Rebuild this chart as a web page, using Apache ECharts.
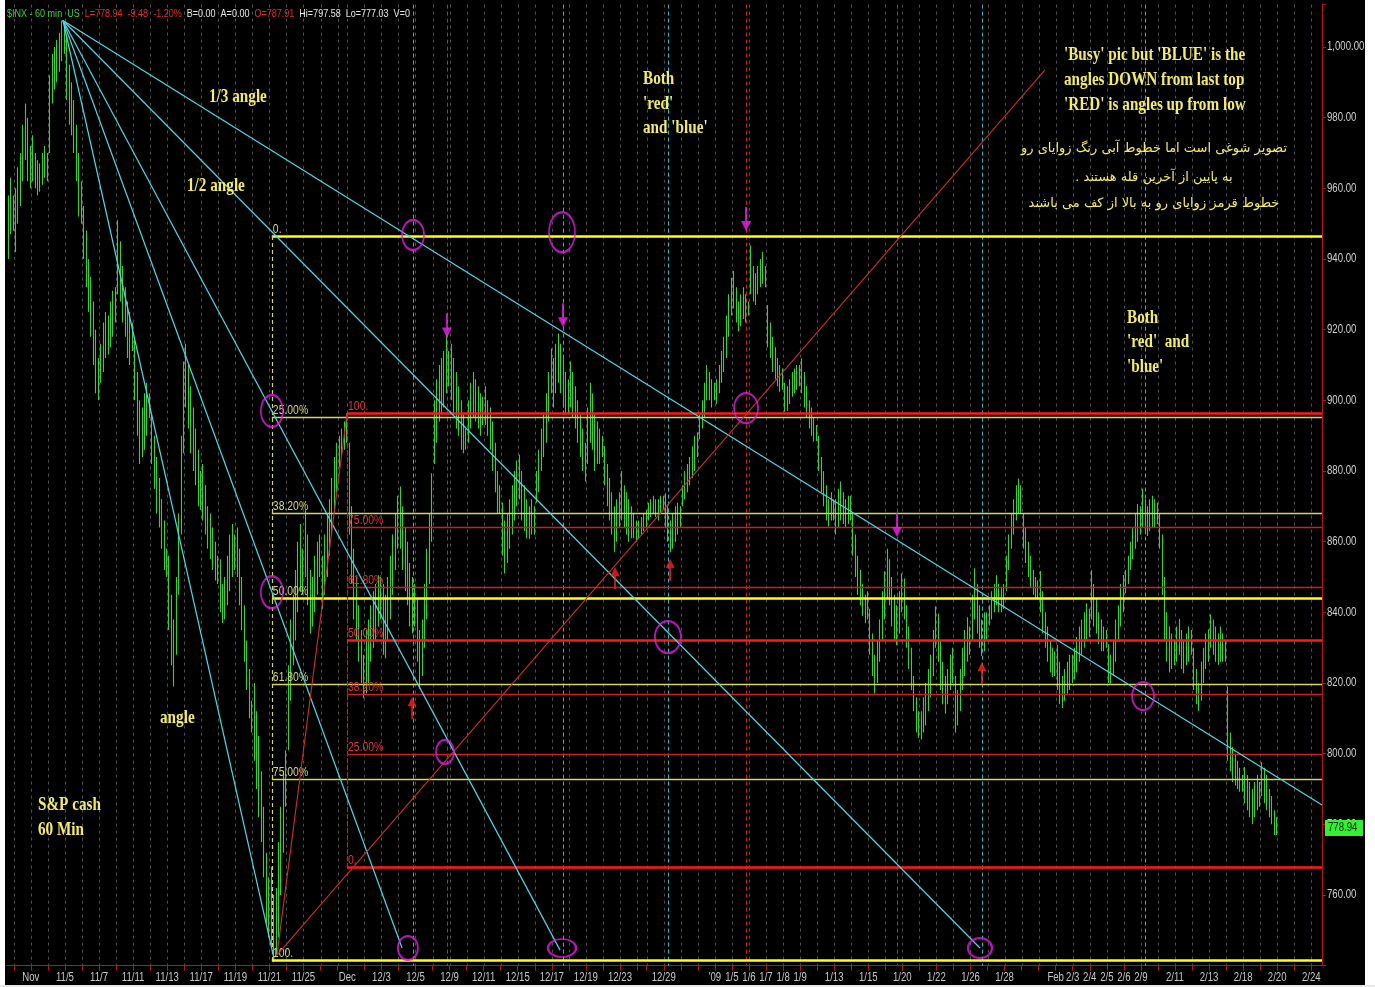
<!DOCTYPE html>
<html>
<head>
<meta charset="utf-8">
<title>$INX 60 min</title>
<script src="https://cdn.jsdelivr.net/npm/echarts@6/dist/echarts.min.js"></script>
<style>
  html, body { margin: 0; padding: 0; background: #ffffff; }
  #chart { width: 1375px; height: 987px; }
</style>
</head>
<body>
<div id="chart"></div>
<script>
// ---- Hourly bars, [high, low], grouped by trading day ----
const octDays = ['10/30', '10/31'];
const octBars = [
  [[951,939],[948,937],[945,930],[950,935],[958,940],[963,947],[958,948]],
  [[960,942],[966,950],[970,955],[978,962],[984,968],[980,962],[972,960]]
];

const novDays = ['11/3','11/4','11/5','11/6','11/7','11/10','11/11','11/12','11/13','11/14',
                 '11/17','11/18','11/19','11/20','11/21','11/24','11/25','11/26','11/28'];
const novBars = [
  [[975,962],[970,960],[968,958],[967,959],[970,961],[972,963],[970,962]],
  [[992,970],[998,984],[1000,988],[1002,990],[1004,993],[1007.5,996],[1006,998]],
  [[1003,985],[995,978],[990,975],[985,970],[978,962],[970,952],[962,950]],
  [[955,940],[948,932],[940,925],[935,918],[928,910],[920,902],[912,900]],
  [[916,905],[922,908],[925,912],[924,913],[928,915],[931,918],[932,922]],
  [[951,930],[945,928],[938,922],[932,918],[928,912],[925,910],[922,914]],
  [[917,900],[908,890],[900,882],[898,884],[902,886],[905,890],[902,895]],
  [[896,882],[890,875],[884,868],[878,864],[872,858],[866,852],[858,850]],
  [[856,835],[845,825],[838,819],[850,828],[868,845],[890,862],[911,885]],
  [[916,898],[910,892],[904,885],[898,880],[892,876],[886,870],[880,869]],
  [[882,866],[876,862],[870,858],[868,855],[864,852],[860,849],[856,848]],
  [[855,840],[848,837],[850,838],[856,842],[862,846],[865,850],[862,852]],
  [[864,850],[858,842],[850,835],[842,826],[832,818],[824,810],[815,806]],
  [[820,798],[812,790],[805,782],[795,775],[785,765],[772,752],[765,748]],
  [[768,745],[760,741],[762,743],[775,748],[785,760],[795,772],[801,785]],
  [[825,801],[838,815],[845,825],[852,832],[860,840],[865,846],[858,845]],
  [[869,850],[862,842],[852,834],[850,836],[856,840],[860,845],[862,850]],
  [[856,841],[862,845],[868,850],[872,856],[878,862],[884,868],[888,874]],
  [[890,881],[892,884],[894,886],[896.3,888]]
];

const decDays = ['12/1','12/2','12/3','12/4','12/5','12/8','12/9','12/10','12/11','12/12','12/15',
                 '12/16','12/17','12/18','12/19','12/22','12/23','12/24','12/26','12/29','12/30','12/31'];
const decBars = [
  [[888,862],[870,848],[858,838],[850,832],[842,826],[835,820],[828,815.7]],
  [[835,817],[838,820],[842,826],[846,830],[848,832],[850.5,836],[850,838]],
  [[848,828],[845,827],[850,832],[856,838],[862,845],[868,852],[873,858]],
  [[875.6,858],[870,852],[864,846],[860,842],[854,836],[850,834],[848,836]],
  [[844,826],[835,818.4],[838,822],[848,830],[858,838],[868,848],[879.4,860]],
  [[900,882],[906,888],[910,894],[912,896],[914,898],[918.6,902],[914,904]],
  [[916,900],[912,896],[908,892],[904,890],[900,886],[896,885],[892,886]],
  [[900,888],[905,892],[908,895],[906,894],[904,892],[902,890],[901,893]],
  [[904,893],[900,890],[898,886],[894,880],[888,874],[880,868],[876,868]],
  [[871,856],[866,851],[868,854],[872,858],[876,862],[880,866],[883,870]],
  [[884.6,872],[880,866],[876,863],[872,861],[870,860.8],[872,862],[870,862]],
  [[880,871],[886,874],[892,880],[896,884],[902,888],[908,894],[914.7,902]],
  [[912,898],[916,902],[918.9,905],[916,902],[912,898],[908,896],[906,896]],
  [[911,898],[908,895],[904,892],[900,888],[896,884],[892,880],[888,877]],
  [[898,882],[905,888],[902,886],[896,880],[894,882],[892,882],[890,884]],
  [[887,876],[882,870],[878,866],[874,862],[870,857],[872,860],[874,864]],
  [[880,866],[876,864],[874,862],[872,860],[870,861],[868,861],[866,860]],
  [[866,861],[867,862],[868,863],[869,864]],
  [[871,866],[872,867],[873,868],[872,867],[872,866],[873,868],[873,869]],
  [[873.7,864],[870,860],[866,857],[868,858],[870,860],[871,862],[870,864]],
  [[876,870],[880,872],[882,874],[884,876],[887,878],[890,880],[891,884]],
  [[896,889],[900,892],[905,895],[910,900],[908,900],[906,898],[905,900]]
];

const janDays = ['1/2','1/5','1/6','1/7','1/8','1/9','1/12','1/13','1/14','1/15','1/16',
                 '1/20','1/21','1/22','1/23','1/26','1/27','1/28','1/29','1/30'];
const janBars = [
  [[906,899],[910,902],[914,905],[918,908],[924,912],[930,918],[934.7,924]],
  [[936.6,926],[932,922],[928,919.5],[930,921],[932,923],[930,922],[928,924]],
  [[943.85,930],[938,928],[936,927],[938,930],[940,932],[942,933],[938,932]],
  [[927,915],[922,912],[918,908],[915,906],[912,904],[910,902.4],[909,903]],
  [[905,896.8],[904,897],[906,899],[908,901],[909,902],[910,903],[910,904]],
  [[911.9,902],[908,898],[904,895],[900,892],[898,890],[895,888.3],[893,888.5]],
  [[890,880],[884,874],[880,870],[876,866],[872,864.3],[874,866],[872,866]],
  [[872,862],[875,864],[877,866],[874,865],[872,864],[873,865],[873,866]],
  [[868,856],[862,850],[856,845],[852,842],[848,839],[845,836.9],[846,838]],
  [[841,828],[834,822],[828,817],[832,820],[838,826],[846,832],[851.6,838]],
  [[858,844],[855,842],[850,836],[845,832],[842,830.7],[846,834],[851,840]],
  [[849.6,838],[842,830],[836,824],[830,818],[822,812],[816,806],[812,804.5]],
  [[812,804],[816,806],[820,808],[824,812],[828,816],[835,822],[841.7,830]],
  [[839.7,826],[832,818],[826,814],[822,811.3],[824,814],[828,818],[830,820]],
  [[822,806],[818,808],[824,812],[830,818],[835,822],[838.6,826],[836,828]],
  [[845,832],[852.5,838],[848,834],[842,830],[838,827.7],[840,829],[840,832]],
  [[842,836.3],[846,838],[848,840],[850.5,842],[848,840],[847,840],[848,841]],
  [[856,846],[862,852],[868,858],[872,862],[876,866],[877.9,868],[876,868]],
  [[868,858],[864,854],[860,850],[856,847],[852,845],[850,844],[849,844]],
  [[851.7,840],[846,834],[840,830],[836,826],[832,823],[830,821.7],[829,822]]
];

const febDays = ['2/2','2/3','2/4','2/5','2/6','2/9','2/10','2/11','2/12','2/13','2/17','2/18','2/19'];
const febBars = [
  [[830.8,818],[826,814],[822,812.9],[824,815],[826,817],[828,818],[828,820]],
  [[830,821],[833,823],[836,826],[838,828],[840,830],[842.6,832],[841,833]],
  [[851.9,838],[848,836],[844,834],[840,831],[838,829],[836,829],[835,830]],
  [[831,820],[828,819.9],[832,822],[838,826],[842,832],[848,836],[850.6,840]],
  [[852,845.4],[856,848],[860,852],[864,855],[868,858],[870.7,860],[870,862]],
  [[875,864],[872,862],[870,861.6],[872,863],[873,864],[872,864],[871,865]],
  [[868,858],[862,845],[850,832],[840,826],[836,823],[834,824],[832,825]],
  [[836,826],[838.2,828],[835,824],[832,822.8],[834,825],[836,826],[835,828]],
  [[830,818],[824,814],[820,812],[826,815],[830,820],[834,824],[835.2,826]],
  [[839.4,830],[838,828],[836,826],[834,825.2],[836,826],[834,826],[832,826]],
  [[819,798],[806,795],[802,792],[800,791],[798,790],[796,789.2],[794,789.2]],
  [[796.2,786],[794,784],[792,782],[790,780.1],[792,782],[794,784],[792,785]],
  [[797.6,788],[796,786],[794,784],[790,782],[788,780],[784,777],[782,777]]
];

// sessions after the last bar (empty space on the time axis)
const futureDays = ['2/20', '2/23', '2/24'];

// ---- Axis labels ----
const xTickDays = ['11/3','11/5','11/7','11/11','11/13','11/17','11/19','11/21','11/25','12/1','12/3','12/5',
  '12/9','12/11','12/15','12/17','12/19','12/23','12/29','1/2','1/5','1/6','1/7','1/8','1/9','1/13','1/15',
  '1/20','1/22','1/26','1/28','2/2','2/3','2/4','2/5','2/6','2/9','2/11','2/13','2/18','2/20','2/24'];
const xTickText = ['Nov','11/5','11/7','11/11','11/13','11/17','11/19','11/21','11/25','Dec','12/3','12/5',
  '12/9','12/11','12/15','12/17','12/19','12/23','12/29',"'09",'1/5','1/6','1/7','1/8','1/9','1/13','1/15',
  '1/20','1/22','1/26','1/28','Feb','2/3','2/4','2/5','2/6','2/9','2/11','2/13','2/18','2/20','2/24'];
const yTickValues = [760, 780, 800, 820, 840, 860, 880, 900, 920, 940, 960, 980, 1000];

// ---- Quote line ----
const lastClose = 778.94;
const quoteParts = [
  ['$INX - 60 min  US', 'g'], ['L=778.94  -9.48  -1.20%', 'r'],
  ['B=0.00  A=0.00', 'w'], ['O=787.91', 'r'], ['Hi=797.58  Lo=777.03  V=0', 'w']
];

// ---- Drawing tools (bar index, price) ----
const fanApex = [27.2, 1007.5];                       // last top
const fanEnds = [[113.9, 742], [166.5, 745], [231.4, 744.4], [403.9, 745], [544.4, 785.5]];
const lowPivot = [115.1, 743];                        // last low
const riseEnds = [[143.9, 896.4], [430.6, 993.5]];

const fibPercents = [0, 25, 38.2, 50, 61.8, 75, 100];
const fibLabels = ['0.', '25.00%', '38.20%', '50.00%', '61.80%', '75.00%', '100.'];
const yellowFib = [113.0, 946.5, 741.5];  // anchor bar, 0% price, 100% price
const redFib = [143.9, 767.9, 896.4];

const cyanMarkers = [171.0, 232.6, 275.8, 404.7, 471.7];
const redMarkers = [184.9, 307.8, 369.8];

const ringPoints = [[171.0, 946.8], [232.2, 947.6], [113.0, 897.0], [113.0, 845.7], [307.8, 897.8],
  [275.7, 833.0], [184.1, 800.5], [470.9, 816.3], [168.9, 745.0], [232.2, 745.0], [403.9, 745.0]];
const ringSizes = [[22, 30], [26, 40], [22, 32], [22, 32], [24, 30], [26, 32], [18, 24], [22, 28],
  [20, 24], [28, 18], [24, 20]];
const peakArrows = [[184.9, 921.2], [232.6, 924.1], [307.8, 951.3], [369.8, 864.7]];
const troughArrows = [[170.6, 812.9], [254.0, 849.7], [276.6, 852.0], [404.7, 822.8]];

// ---- Build bar positions from the session lists ----
const SESSION = 7;
const dayStart = {};
const priceBars = [];
let cursor = 0;
[[octDays, octBars], [novDays, novBars], [decDays, decBars], [janDays, janBars], [febDays, febBars]]
  .forEach(([names, bars]) => {
    names.forEach((name, d) => {
      dayStart[name] = cursor;
      bars[d].forEach((b, h) => priceBars.push([cursor + h + 0.5, b[0], b[1]]));
      cursor += bars[d].length;
    });
  });
futureDays.forEach(name => { dayStart[name] = cursor; cursor += SESSION; });

const xView = [4.2, 544.4];
const dayLines = Object.values(dayStart).filter(v => v > xView[0] && v < xView[1]);

// ---- Styling ----
const SANS = '"Liberation Sans", Arial, sans-serif';
const SERIF = '"Liberation Serif", "DejaVu Serif", serif';
const NARROW_SCALE = 0.8;   // condensed look for the small print
const NOTE = '#f2ec6a';
const AXIS_RED = '#b01818';

function smallText(text, x, y, fill, size, align, vAlign) {
  return { type: 'text', x, y, scaleX: NARROW_SCALE,
           style: { text, fill, font: size + 'px ' + SANS, align, verticalAlign: vAlign } };
}

function verticalLines(positions, color, dash, z) {
  return {
    type: 'custom', z, silent: true, animation: false,
    dimensions: ['x'], encode: { x: 0 },
    data: positions.map(p => [p]),
    renderItem: (params, api) => {
      const cs = params.coordSys;
      const x = Math.round(api.coord([api.value(0), 900])[0]) + 0.5;
      return { type: 'line', shape: { x1: x, y1: cs.y, x2: x, y2: cs.y + cs.height },
               style: { stroke: color, lineWidth: 1, lineDash: dash } };
    }
  };
}

function fibSeries(fib, strong, soft, labelColor) {
  const [anchor, p0, p100] = fib;
  return {
    type: 'custom', z: 6, silent: true, animation: false,
    encode: { x: 0, y: 1 },
    data: fibPercents.map((p, i) => [anchor, p0 + (p100 - p0) * p / 100, i]),
    renderItem: (params, api) => {
      const cs = params.coordSys;
      const i = api.value(2);
      const pt = api.coord([api.value(0), api.value(1)]);
      const y = Math.round(pt[1]) + 0.5;
      const thick = fibPercents[i] === 0 || fibPercents[i] === 50 || fibPercents[i] === 100;
      const children = [
        { type: 'line', shape: { x1: pt[0], y1: y, x2: cs.x + cs.width, y2: y },
          style: { stroke: thick ? strong : soft, lineWidth: thick ? 2.5 : 1.4 } },
        smallText(fibLabels[i], pt[0] + 1, y - 1, labelColor, 13, 'left', 'bottom')
      ];
      if (i === 0) {
        const a = api.coord([anchor, p0]);
        const b = api.coord([anchor, p100]);
        const x = Math.round(a[0]) + 0.5;
        children.push({ type: 'line', shape: { x1: x, y1: a[1], x2: x, y2: b[1] },
                        style: { stroke: soft, lineWidth: 1.2, lineDash: [4, 3] } });
      }
      return { type: 'group', children };
    }
  };
}

function segment(from, to, color, width) {
  return { type: 'line', z: 7, silent: true, animation: false, symbol: 'none', clip: true,
           data: [from, to], lineStyle: { color, width } };
}

const series = [
  verticalLines(dayLines, '#505050', [3, 4], 1),
  verticalLines(cyanMarkers, '#37b4c4', [4, 3], 2),
  verticalLines(redMarkers, '#c42a2a', [4, 3], 2),
  {
    type: 'custom', z: 4, silent: true, animation: false, clip: true,
    encode: { x: 0, y: [1, 2] },
    data: priceBars,
    renderItem: (params, api) => {
      const top = api.coord([api.value(0), api.value(1)]);
      const bot = api.coord([api.value(0), api.value(2)]);
      const x = Math.round(top[0]) + 0.5;
      return { type: 'line', shape: { x1: x, y1: top[1], x2: x, y2: bot[1] },
               style: { stroke: '#3ccc3c', lineWidth: 1.1 } };
    }
  },
  fibSeries(yellowFib, '#ffff10', '#d4d468', '#d8d878'),
  fibSeries(redFib, '#ff1a1a', '#cc2020', '#e03838'),
  ...fanEnds.map(e => segment(fanApex, e, '#52d6e6', 1.2)),
  ...riseEnds.map(e => segment(lowPivot, e, '#c83030', 1.1)),
  {
    type: 'scatter', z: 9, silent: true, animation: false,
    data: ringPoints,
    symbol: 'circle',
    symbolSize: (v, p) => ringSizes[p.dataIndex],
    itemStyle: { color: 'rgba(0,0,0,0)', borderColor: '#e01ee0', borderWidth: 2 }
  },
  {
    type: 'scatter', z: 9, silent: true, animation: false,
    data: peakArrows,
    symbol: 'path://M4,0 L6,0 L6,14 L10,14 L5,24 L0,14 L4,14 Z',
    symbolSize: [10, 24],
    itemStyle: { color: '#f020f0' }
  },
  {
    type: 'scatter', z: 9, silent: true, animation: false,
    data: troughArrows,
    symbol: 'path://M5,0 L10,10 L6,10 L6,24 L4,24 L4,10 L0,10 Z',
    symbolSize: [9, 22],
    itemStyle: { color: '#ff2020' }
  },
  // price scale labels
  {
    type: 'custom', z: 20, silent: true, animation: false,
    encode: { y: 0 }, dimensions: ['y'],
    data: yTickValues.map(v => [v]),
    renderItem: (params, api) => {
      const v = api.value(0);
      const p = api.coord([xView[1], v]);
      return smallText(v.toLocaleString('en-US', { minimumFractionDigits: 2, maximumFractionDigits: 2 }),
                       p[0] + 5, p[1], '#d0d0d0', 12, 'left', 'middle');
    }
  },
  // time scale labels
  {
    type: 'custom', z: 20, silent: true, animation: false,
    dimensions: ['x'], encode: { x: 0 },
    data: xTickDays.map((d, i) => [dayStart[d], i]),
    renderItem: (params, api) => {
      const cs = params.coordSys;
      const p = api.coord([api.value(0), 900]);
      return smallText(xTickText[api.value(1)], p[0], cs.y + cs.height + 12, '#c8c8c8', 12, 'center', 'middle');
    }
  },
  // last price tag
  {
    type: 'custom', z: 30, silent: true, animation: false,
    encode: { x: 0, y: 1 },
    data: [[xView[1], lastClose]],
    renderItem: (params, api) => {
      const p = api.coord([api.value(0), api.value(1)]);
      return { type: 'group', children: [
        { type: 'rect', shape: { x: p[0] + 3, y: Math.round(p[1]) - 8, width: 38, height: 16 },
          style: { fill: '#33f033' } },
        smallText(api.value(1).toFixed(2), p[0] + 6, Math.round(p[1]), '#0a2a0a', 12, 'left', 'middle')
      ] };
    }
  }
];

// ---- Free text ----
function note(text, x, y) {
  return { type: 'text', x, y, scaleX: 0.8, z: 100, silent: true,
           style: { text, fill: NOTE, font: 'bold 19px ' + SERIF, align: 'left', verticalAlign: 'middle' } };
}
function farsi(text, y) {
  return { type: 'text', x: 1154, y, z: 100, silent: true,
           style: { text, fill: NOTE, font: '13px "DejaVu Sans"', align: 'center', verticalAlign: 'middle' } };
}

const graphic = [
  {
    type: 'text', x: 7, y: 14, scaleX: 0.82, z: 100, silent: true,
    style: {
      text: quoteParts.map(q => '{' + q[1] + '|' + q[0] + '}').join('  '),
      font: '11px ' + SANS, verticalAlign: 'middle', align: 'left',
      rich: {
        g: { fill: '#3fd03f', font: '11px ' + SANS },
        r: { fill: '#e03030', font: '11px ' + SANS },
        w: { fill: '#e6e6e6', font: '11px ' + SANS }
      }
    }
  },
  note('1/3 angle', 209, 97),
  note('1/2 angle', 187, 186),
  note('angle', 160, 718),
  note('S&P cash', 38, 805),
  note('60 Min', 38, 830),
  note('Both', 643, 79),
  note("'red'", 643, 104),
  note("and 'blue'", 643, 128),
  note("'Busy' pic but 'BLUE' is the", 1064, 55),
  note('angles DOWN from last top', 1064, 80),
  note("'RED' is angles up from low", 1064, 105),
  farsi('تصویر شوغی است اما خطوط آبی رنگ زوایای رو', 149),
  farsi('به پایین از آخرین قله هستند .\u200F', 178),
  farsi('خطوط قرمز زوایای رو به بالا از کف می باشند', 204),
  note('Both', 1127, 318),
  note("'red'  and", 1127, 342),
  note("'blue'", 1127, 367),
  // frame around the panel
  { type: 'rect', z: 200, silent: true, shape: { x: 0, y: 0, width: 5, height: 987 }, style: { fill: '#ffffff' } },
  { type: 'rect', z: 200, silent: true, shape: { x: 1365, y: 0, width: 10, height: 987 }, style: { fill: '#ffffff' } },
  { type: 'rect', z: 200, silent: true, shape: { x: 0, y: 985, width: 1375, height: 2 }, style: { fill: '#e8e8e8' } }
];

const chart = echarts.init(document.getElementById('chart'), null, { renderer: 'canvas', width: 1375, height: 987 });
chart.setOption({
  animation: false,
  backgroundColor: '#000000',
  grid: { left: 7, right: 53, top: 4.6, bottom: 21.3, containLabel: false },
  xAxis: {
    type: 'value', min: xView[0], max: xView[1],
    splitLine: { show: false },
    axisLine: { show: true, lineStyle: { color: AXIS_RED, width: 1 } },
    axisTick: { show: true, customValues: dayLines, length: 5, lineStyle: { color: AXIS_RED } },
    axisLabel: { show: false }
  },
  yAxis: {
    type: 'value', position: 'right', min: 740, max: 1012, interval: 20,
    splitLine: { show: false },
    axisLine: { show: true, lineStyle: { color: AXIS_RED, width: 1 } },
    axisTick: { show: true, length: 4, lineStyle: { color: AXIS_RED } },
    axisLabel: { show: false }
  },
  series,
  graphic
});
</script>
</body>
</html>
